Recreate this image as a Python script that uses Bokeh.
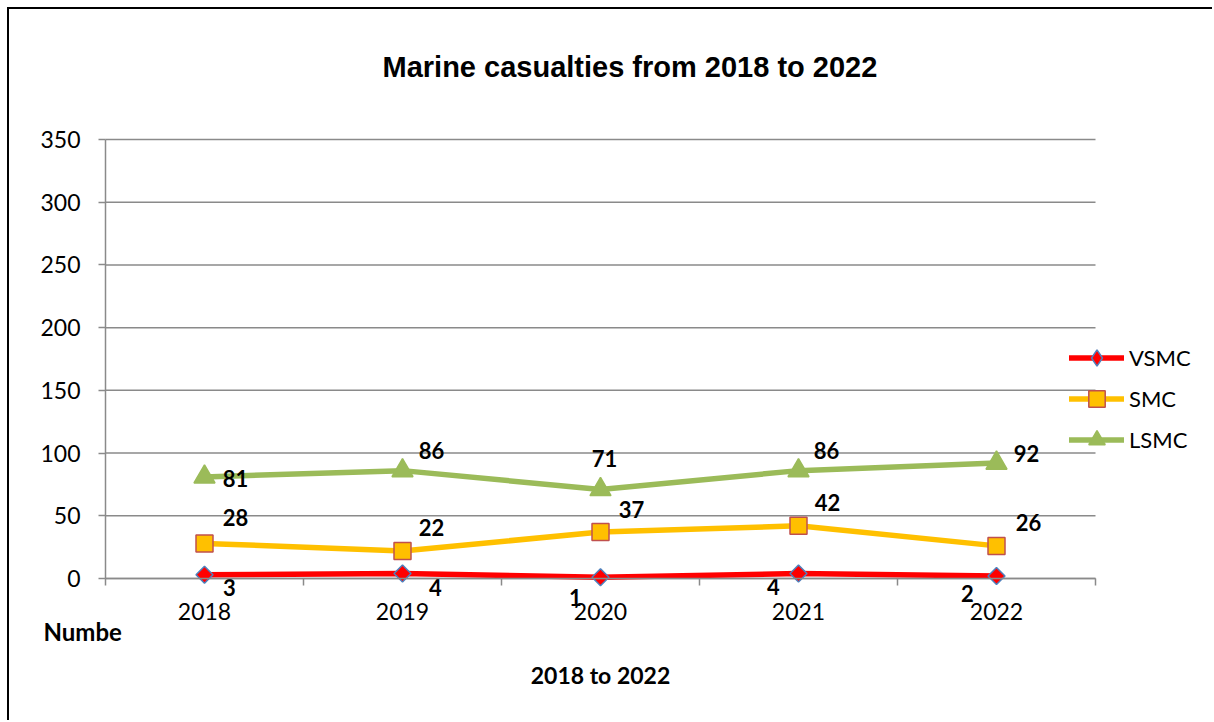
from bokeh.plotting import figure
from bokeh.models import (ColumnDataSource, FixedTicker, Legend, LegendItem, Label, Range1d)
from bokeh.core.properties import value
from bokeh.embed import file_html
from bokeh.resources import INLINE

# ---- data ----
years = ["2018", "2019", "2020", "2021", "2022"]
vsmc = [3, 4, 1, 4, 2]
smc = [28, 22, 37, 42, 26]
lsmc = [81, 86, 71, 86, 92]
y_ticks = [0, 50, 100, 150, 200, 250, 300, 350]

# ---- styling: data label offsets in screen pixels (dx, dy; +dy = down) ----
vsmc_dx = [25, 33, -25, -25, -29]
vsmc_dy = [13, 14, 20, 13, 18]
smc_dx = [31, 29, 31, 29, 32]
smc_dy = [-26, -23, -23, -23, -23]
lsmc_dx = [31, 29, 4, 28, 30]
lsmc_dy = [2, -20, -31, -20, -10]

n = len(years)
xs = list(range(1, n + 1))
bounds = [i + 0.5 for i in range(0, n + 1)]
TICK_FONT = "Lato"
GRAY = "#8a8a8a"

# ---- layout geometry (pixels) ----
PAGE_OFF = 9                 # figure starts 9px into the page (frame border)
W, H = 1214 - PAGE_OFF, 722 - PAGE_OFF
FRAME_TOP = 100              # frame top inside figure
PLOT_TOP = 139 - PAGE_OFF    # y = max tick
PLOT_L, PLOT_R = 105 - PAGE_OFF, 1095 - PAGE_OFF   # category area in figure px
ZERO_Y = 578 - PAGE_OFF      # y=0 in figure px
YMAX = y_ticks[-1]
slot = (PLOT_R - PLOT_L) / n
x_start = 0.5 - PLOT_L / slot
x_end = 0.5 + (W - PLOT_L) / slot
ppu = (ZERO_Y - PLOT_TOP) / YMAX
y_start = -(H - ZERO_Y) / ppu
y_end = YMAX + (PLOT_TOP - FRAME_TOP) / ppu

p = figure(width=W, height=H, output_backend="svg", toolbar_location=None,
           x_range=Range1d(x_start, x_end), y_range=Range1d(y_start, y_end),
           min_border_left=0, min_border_right=0, min_border_top=FRAME_TOP,
           min_border_bottom=0)
p.styles = {"border-left": "2px solid black", "border-top": "2px solid black",
            "margin-left": "7px", "margin-top": "7px"}
p.outline_line_color = None
p.background_fill_color = "white"
p.border_fill_color = "white"
p.xgrid.visible = False
p.ygrid.visible = False

# title
p.title.text = "Marine casualties from 2018 to 2022"
p.title.align = "left"
p.title.offset = 373
p.title.text_font = "Liberation Sans"
p.title.text_font_style = "bold"
p.title.text_font_size = "29px"
p.title.text_color = "black"
p.title.standoff = 53

# horizontal gridlines across the category area only
p.segment(x0=[bounds[0]] * len(y_ticks), x1=[bounds[-1]] * len(y_ticks),
          y0=y_ticks, y1=y_ticks, line_color=GRAY, line_width=1.5, level="underlay")

# y axis
yax = p.yaxis[0]
yax.fixed_location = bounds[0]
yax.bounds = (0, YMAX)
yax.ticker = FixedTicker(ticks=y_ticks)
yax.axis_line_color = GRAY
yax.axis_line_width = 1.5
yax.major_tick_line_color = GRAY
yax.major_tick_line_width = 1.5
yax.major_tick_out = 7
yax.major_tick_in = 0
yax.minor_tick_line_color = None
yax.major_label_standoff = 18
yax.major_label_text_font = TICK_FONT
yax.major_label_text_font_size = "23px"
yax.major_label_text_color = "black"

# x axis
xax = p.xaxis[0]
xax.fixed_location = 0
xax.bounds = (bounds[0], bounds[-1])
xax.ticker = FixedTicker(ticks=xs, minor_ticks=bounds)
xax.major_label_overrides = {x: y for x, y in zip(xs, years)}
xax.axis_line_color = GRAY
xax.axis_line_width = 1.5
xax.major_tick_line_color = None
xax.major_tick_out = 7
xax.major_tick_in = 0
xax.minor_tick_line_color = GRAY
xax.minor_tick_line_width = 1.5
xax.minor_tick_out = 7
xax.minor_tick_in = 0
xax.major_label_standoff = 17
xax.major_label_text_font = TICK_FONT
xax.major_label_text_font_size = "23px"
xax.major_label_text_color = "black"
xax.axis_label = "2018 to 2022"
xax.axis_label_text_font = TICK_FONT
xax.axis_label_text_font_style = "bold"
xax.axis_label_text_font_size = "23px"
xax.axis_label_text_color = "black"
xax.axis_label_standoff = 38

# name, values, line colour, marker, size, fill, outline, angle, legend marker, dx, dy
series = [
    ("VSMC", vsmc, "#FF0000", "square", 12, "#FF0000", "#4F81BD", 0.785398, "diamond", vsmc_dx, vsmc_dy),
    ("SMC", smc, "#FFC000", "square", 17, "#FFC000", "#C0504D", 0.0, "square", smc_dx, smc_dy),
    ("LSMC", lsmc, "#9BBB59", "triangle", 21, "#9BBB59", "#9BBB59", 0.0, "triangle", lsmc_dx, lsmc_dy),
]

items = []
sources = []
for name, vals, col, marker, size, fill, outline, ang, lmarker, dx, dy in series:
    src = ColumnDataSource(dict(x=xs, y=vals, lab=[str(v) for v in vals], dx=dx, dy=dy))
    lr = p.line("x", "y", source=src, line_color=col, line_width=5.5, line_cap="round",
                line_join="round")
    sr = p.scatter("x", "y", source=src, marker=marker, size=size, fill_color=fill,
                   line_color=outline, line_width=1.5, angle=ang)
    if lmarker != marker:
        # legend-only marker (legend swatches are drawn unrotated)
        sr = p.scatter(x=[float("nan")], y=[float("nan")], marker=lmarker, size=size,
                       fill_color=fill, line_color=outline, line_width=1.5)
    sources.append(src)
    items.append(LegendItem(label=name, renderers=[lr, sr]))

for src in sources:
    p.text("x", "y", text="lab", source=src, x_offset="dx", y_offset="dy",
           text_font=value(TICK_FONT), text_font_style="bold", text_font_size="22px",
           text_align="center", text_baseline="middle", text_color="black")

legend = Legend(items=items, location=(1069 - PAGE_OFF, 722 - 460), orientation="vertical")
legend.background_fill_alpha = 0
legend.border_line_color = None
legend.padding = 0
legend.margin = 0
legend.spacing = 0
legend.glyph_width = 55
legend.glyph_height = 41
legend.label_height = 24
legend.label_standoff = 5
legend.label_text_font = TICK_FONT
legend.label_text_font_size = "22px"
legend.label_text_color = "black"
p.add_layout(legend)

p.add_layout(Label(x=43 - PAGE_OFF, y=722 - 631, x_units="screen", y_units="screen",
                   text="Numbe", text_font=TICK_FONT, text_font_style="bold",
                   text_font_size="24px", text_align="left", text_baseline="middle",
                   text_color="black"))

open("out.html", "w").write(file_html(p, INLINE))
